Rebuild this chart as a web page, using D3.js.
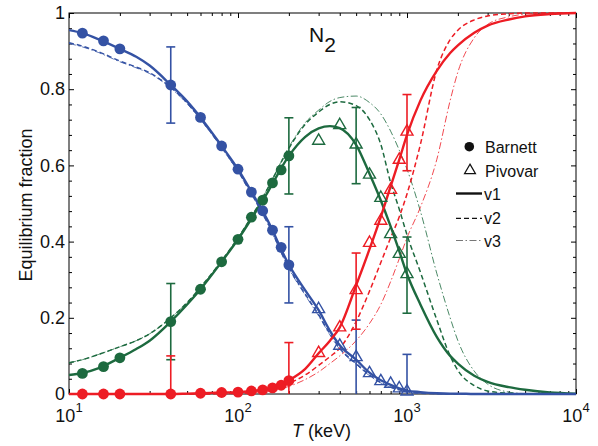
<!DOCTYPE html>
<html><head><meta charset="utf-8">
<script src="https://cdn.jsdelivr.net/npm/d3@7"></script>
<style>
html,body{margin:0;padding:0;background:#fff;}
svg{display:block;font-family:"Liberation Sans",Arial,Helvetica,sans-serif;}
</style></head><body>
<svg id="chart" width="598" height="446"></svg>
<script>
// Temperature grid (keV) for the model curves
const T_GRID = [10,12,15,20,25,30,40,50,60,80,100,120,150,200,250,300,350,400,500,600,700,800,900,1000,1200,1500,1800,2000,2500,3000,4000,5000,7000,10000];

// Model curves: equilibrium fraction per charge state, three model versions
const blueV1  = [0.955,0.947,0.931,0.906,0.885,0.862,0.811,0.768,0.726,0.651,0.590,0.531,0.455,0.339,0.272,0.220,0.166,0.128,0.090,0.056,0.036,0.024,0.015,0.009,0.005,0.002,0.001,0.001,0,0,0,0,0,0];
const blueV2  = [0.922,0.913,0.898,0.874,0.858,0.843,0.805,0.764,0.722,0.648,0.585,0.526,0.449,0.332,0.262,0.208,0.158,0.120,0.080,0.050,0.030,0.018,0.011,0.006,0.002,0.001,0,0,0,0,0,0,0,0];
const blueV3  = [0.920,0.911,0.896,0.872,0.856,0.841,0.803,0.762,0.720,0.646,0.583,0.524,0.446,0.329,0.259,0.205,0.155,0.117,0.078,0.048,0.029,0.017,0.010,0.005,0.002,0.001,0,0,0,0,0,0,0,0];

const greenV1 = [0.050,0.055,0.068,0.095,0.118,0.140,0.190,0.235,0.275,0.347,0.406,0.460,0.530,0.625,0.675,0.697,0.703,0.698,0.654,0.578,0.508,0.440,0.375,0.315,0.235,0.150,0.100,0.080,0.048,0.032,0.018,0.011,0.004,0.001];
const greenV2 = [0.082,0.090,0.104,0.124,0.140,0.158,0.200,0.240,0.280,0.350,0.410,0.465,0.540,0.645,0.708,0.740,0.760,0.767,0.757,0.720,0.655,0.555,0.485,0.418,0.320,0.195,0.100,0.062,0.022,0.008,0.002,0,0,0];
const greenV3 = [0.082,0.090,0.104,0.124,0.140,0.158,0.200,0.240,0.280,0.350,0.410,0.465,0.540,0.648,0.712,0.745,0.768,0.778,0.782,0.765,0.735,0.690,0.640,0.590,0.480,0.317,0.200,0.140,0.060,0.026,0.005,0.001,0,0];

const redV1   = [0,0,0,0,0,0,0,0.001,0.002,0.004,0.005,0.008,0.014,0.036,0.066,0.107,0.140,0.175,0.285,0.380,0.465,0.545,0.615,0.680,0.770,0.848,0.895,0.915,0.948,0.967,0.983,0.991,0.997,1.0];
const redV2   = [0,0,0,0,0,0,0,0,0,0.001,0.002,0.004,0.010,0.028,0.050,0.075,0.098,0.120,0.190,0.270,0.345,0.410,0.465,0.525,0.655,0.850,0.930,0.955,0.982,0.992,0.998,1.0,1.0,1.0];
const redV3   = [0,0,0,0,0,0,0,0,0,0,0.001,0.002,0.006,0.020,0.038,0.058,0.080,0.100,0.140,0.185,0.235,0.295,0.355,0.410,0.490,0.615,0.770,0.845,0.935,0.970,0.990,0.997,1.0,1.0];

// Barnett measurements (filled circles)
const barnettT     = [12,16,20,40,60,80,100,120,140,160,180,200];
const barnettBlue  = [0.947,0.927,0.906,0.811,0.726,0.651,0.590,0.530,0.481,0.430,0.385,0.339];
const barnettGreen = [0.054,0.072,0.095,0.190,0.275,0.347,0.406,0.464,0.509,0.554,0.588,0.625];
const barnettRed   = [0,0,0,0,0.002,0.004,0.005,0.008,0.011,0.016,0.023,0.035];

// Pivovar measurements (open triangles)
const pivovarT     = [300,400,500,600,700,800,900,1000];
const pivovarBlue  = [0.220,0.124,0.094,0.052,0.031,0.024,0.012,0.004];
const pivovarGreen = [0.662,0.703,0.652,0.573,0.512,0.417,0.365,0.312];
const pivovarRed   = [0.105,0.172,0.270,0.394,0.452,0.533,0.612,0.686];

// Error bars: points carrying an uncertainty and its half-width
const barnettErrT  = [40,200];
const pivovarErrT  = [500,1000];
const errHalf = 0.1;

const xTickValues = [10,100,1000,10000];
const xTickExponents = ["1","2","3","4"];
const yTickValues = [0,0.2,0.4,0.6,0.8,1];

const COLORS = {blue:"#3452a4", green:"#1d6a3f", red:"#ed1c24"};

const svg = d3.select("#chart");
const L = 69, R = 576, TOP = 13, BOT = 394;
const x = d3.scaleLog().domain([10,1e4]).range([L,R]);
const y = d3.scaleLinear().domain([0,1]).range([BOT,TOP]);

// minor tick positions
const xMinor = [];
[10,100,1000].forEach(d => { for (let k=2;k<=9;k++) xMinor.push(k*d); });
const yMinor = d3.range(0,1.0001,0.04).map(v => +v.toFixed(2)).filter(v => !yTickValues.some(t => Math.abs(t-v)<1e-6));

// axes (ticks point inward)
function styleAxis(g){ g.select(".domain").remove(); g.selectAll("line").attr("stroke","#000").attr("stroke-width",1); }

svg.append("g").attr("transform",`translate(0,${BOT})`)
  .call(d3.axisBottom(x).tickValues(xTickValues).tickSize(-5).tickFormat("")).call(styleAxis);
svg.append("g").attr("transform",`translate(0,${BOT})`)
  .call(d3.axisBottom(x).tickValues(xMinor).tickSize(-3).tickFormat("")).call(styleAxis);
svg.append("g").attr("transform",`translate(0,${TOP})`)
  .call(d3.axisTop(x).tickValues(xTickValues).tickSize(-5).tickFormat("")).call(styleAxis);
svg.append("g").attr("transform",`translate(0,${TOP})`)
  .call(d3.axisTop(x).tickValues(xMinor).tickSize(-3).tickFormat("")).call(styleAxis);

const yAxisG = svg.append("g").attr("transform",`translate(${L},0)`)
  .call(d3.axisLeft(y).tickValues(yTickValues).tickSize(-5).tickPadding(4)
    .tickFormat(d => d===0 ? "0" : d===1 ? "1" : d.toFixed(1)))
  .call(styleAxis);
yAxisG.selectAll("text").attr("font-size",18).attr("fill","#111").attr("font-family","Liberation Sans, Arial, sans-serif");
svg.append("g").attr("transform",`translate(${L},0)`)
  .call(d3.axisLeft(y).tickValues(yMinor).tickSize(-3).tickFormat("")).call(styleAxis);
svg.append("g").attr("transform",`translate(${R},0)`)
  .call(d3.axisRight(y).tickValues(yTickValues).tickSize(-5).tickFormat("")).call(styleAxis);
svg.append("g").attr("transform",`translate(${R},0)`)
  .call(d3.axisRight(y).tickValues(yMinor).tickSize(-3).tickFormat("")).call(styleAxis);

// x tick labels as powers of ten
const xl = svg.append("g");
xTickValues.forEach((v,i) => {
  const t = xl.append("text").attr("x", x(v)).attr("y", 421.5)
    .attr("text-anchor","middle").attr("font-size",18).attr("fill","#111");
  t.append("tspan").text("10");
  t.append("tspan").attr("dy",-10).attr("font-size",13).text(xTickExponents[i]);
});

// frame
svg.append("rect").attr("x",L).attr("y",TOP).attr("width",R-L).attr("height",BOT-TOP)
  .attr("fill","none").attr("stroke","#000").attr("stroke-width",1);

// curves
svg.append("clipPath").attr("id","plotClip").append("rect")
  .attr("x",L).attr("y",TOP-2).attr("width",R-L).attr("height",BOT-TOP+4);
const curveG = svg.append("g").attr("clip-path","url(#plotClip)");
const line = d3.line().x(d => x(d[0])).y(d => y(d[1])).curve(d3.curveMonotoneX);

const styles = {
  v1: {w:2.4, dash:null, op:1},
  v2: {w:1.5, dash:"5,3", op:1},
  v3: {w:1, dash:"7,2.5,1.5,2.5", op:0.8}
};
const series = [
  ["blue","v3",blueV3],["green","v3",greenV3],["red","v3",redV3],
  ["blue","v2",blueV2],["green","v2",greenV2],["red","v2",redV2],
  ["green","v1",greenV1],["blue","v1",blueV1],["red","v1",redV1]
];
series.forEach(([c,v,vals]) => {
  const s = styles[v];
  curveG.append("path").datum(T_GRID.map((t,i)=>[t,vals[i]]))
    .attr("d", line).attr("fill","none").attr("stroke",COLORS[c])
    .attr("stroke-width",s.w).attr("stroke-dasharray",s.dash).attr("opacity",s.op)
    .attr("stroke-linejoin","round");
});

// error bars
const ebG = svg.append("g");
function errorBar(t, v, c){
  const lo = Math.max(0, v-errHalf), hi = Math.min(1, v+errHalf);
  const cx = x(t), cap = 4.5;
  ebG.append("line").attr("x1",cx).attr("x2",cx).attr("y1",y(lo)).attr("y2",y(hi))
    .attr("stroke",COLORS[c]).attr("stroke-width",1.6);
  ebG.append("line").attr("x1",cx-cap).attr("x2",cx+cap).attr("y1",y(hi)).attr("y2",y(hi))
    .attr("stroke",COLORS[c]).attr("stroke-width",1.6);
  if (v-errHalf > 0)
    ebG.append("line").attr("x1",cx-cap).attr("x2",cx+cap).attr("y1",y(lo)).attr("y2",y(lo))
      .attr("stroke",COLORS[c]).attr("stroke-width",1.6);
}
[["blue",barnettBlue],["green",barnettGreen],["red",barnettRed]].forEach(([c,vals]) => {
  barnettErrT.forEach(t => errorBar(t, vals[barnettT.indexOf(t)], c));
});
[["blue",pivovarBlue],["green",pivovarGreen],["red",pivovarRed]].forEach(([c,vals]) => {
  pivovarErrT.forEach(t => errorBar(t, vals[pivovarT.indexOf(t)], c));
});

// markers
const tri = d3.symbol().type(d3.symbolTriangle).size(62);
const mG = svg.append("g");
[["blue",barnettBlue],["green",barnettGreen],["red",barnettRed]].forEach(([c,vals]) => {
  mG.selectAll(null).data(barnettT.map((t,i)=>[t,vals[i]])).enter().append("circle")
    .attr("cx", d=>x(d[0])).attr("cy", d=>y(d[1])).attr("r",5.4).attr("fill",COLORS[c]);
});
[["blue",pivovarBlue],["green",pivovarGreen],["red",pivovarRed]].forEach(([c,vals]) => {
  mG.selectAll(null).data(pivovarT.map((t,i)=>[t,vals[i]])).enter().append("path")
    .attr("d", tri).attr("transform", d=>`translate(${x(d[0])},${y(d[1])-1})`)
    .attr("fill","none").attr("stroke",COLORS[c]).attr("stroke-width",1.4);
});

// legend
const lg = svg.append("g").attr("font-size",16).attr("fill","#111");
lg.append("circle").attr("cx",469.3).attr("cy",146.7).attr("r",4.8).attr("fill","#111");
lg.append("text").attr("x",485).attr("y",153).text("Barnett");
lg.append("path").attr("d",d3.symbol().type(d3.symbolTriangle).size(52))
  .attr("transform","translate(470,170.5)").attr("fill","none").attr("stroke","#111").attr("stroke-width",1.2);
lg.append("text").attr("x",485).attr("y",177).text("Pivovar");
lg.append("line").attr("x1",456).attr("x2",482).attr("y1",193.5).attr("y2",193.5).attr("stroke","#111").attr("stroke-width",2.4);
lg.append("text").attr("x",484).attr("y",200).text("v1");
lg.append("line").attr("x1",456).attr("x2",482).attr("y1",218.3).attr("y2",218.3).attr("stroke","#111").attr("stroke-width",1.3).attr("stroke-dasharray","5,3");
lg.append("text").attr("x",484).attr("y",224).text("v2");
lg.append("line").attr("x1",456).attr("x2",482).attr("y1",240.5).attr("y2",240.5).attr("stroke","#777").attr("stroke-width",1).attr("stroke-dasharray","7,2.5,1.5,2.5");
lg.append("text").attr("x",484).attr("y",246.5).text("v3");

// title
const title = svg.append("text").attr("x",309).attr("y",42).attr("font-size",21).attr("fill","#111");
title.append("tspan").text("N");
title.append("tspan").attr("dy",10).text("2");

// axis titles
const xt = svg.append("text").attr("x",292).attr("y",437).attr("font-size",18).attr("fill","#111");
xt.append("tspan").attr("font-style","italic").text("T");
xt.append("tspan").text(" (keV)");
svg.append("text").attr("transform","translate(32,205) rotate(-90)").attr("text-anchor","middle")
  .attr("font-size",18).attr("fill","#111").text("Equilibrium fraction");
</script>
</body></html>
